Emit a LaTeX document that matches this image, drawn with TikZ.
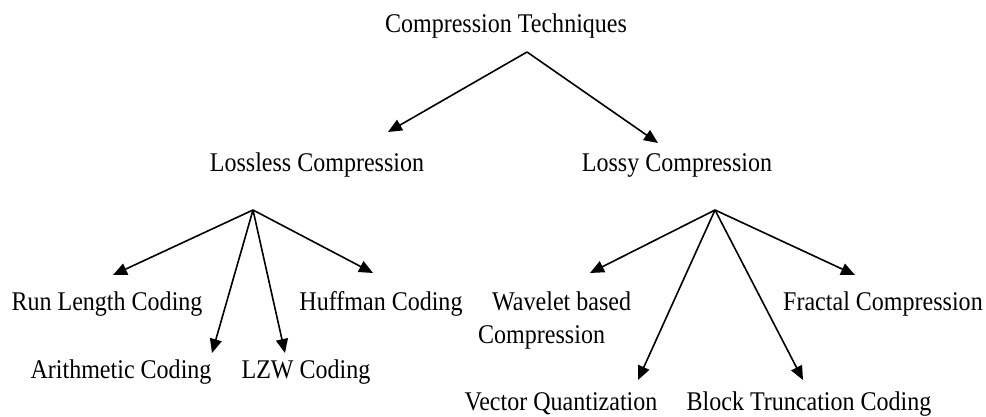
\documentclass[tikz,border=0pt]{standalone}
\usepackage{fontspec}
\setmainfont{Liberation Serif}[FakeStretch=0.89]
\usetikzlibrary{arrows.meta}
\begin{document}
\begin{tikzpicture}[x=1pt,y=-1pt,
  lbl/.style={inner sep=0pt,font=\fontsize{27}{33}\selectfont},
  conn/.style={line width=1.6pt,-{Triangle[length=14pt,width=12pt]}}]
\useasboundingbox (0,0) rectangle (986,417);
% labels
\node[lbl,anchor=base] (ct) at (506,33) {Compression Techniques};
\node[lbl,anchor=base] (ll) at (317,172) {Lossless Compression};
\node[lbl,anchor=base] (ly) at (677,172) {Lossy Compression};
\node[lbl,anchor=base] (rl) at (107,310) {Run Length Coding};
\node[lbl,anchor=base] (hf) at (381,310) {Huffman Coding};
\node[lbl,anchor=base] (ar) at (121,378) {Arithmetic Coding};
\node[lbl,anchor=base] (lz) at (306,378) {LZW Coding};
\node[lbl,anchor=base west,align=left] (wv) at (478,343) {\hspace*{14pt}Wavelet based\\Compression};
\node[lbl,anchor=base west] (fr) at (783,310) {Fractal Compression};
\node[lbl,anchor=base] (vq) at (561,410) {Vector Quantization};
\node[lbl,anchor=base] (bt) at (809,410) {Block Truncation Coding};
% branching points
\coordinate (topA) at (527,52);
\coordinate (llA) at (253,210);
\coordinate (lyA) at (715,210);
% arrow tips
\coordinate (llT) at (388,132);
\coordinate (lyT) at (658,143);
\coordinate (rlT) at (113,275);
\coordinate (arT) at (212,353);
\coordinate (lzT) at (285,353);
\coordinate (hfT) at (373,273);
\coordinate (wvT) at (590,273);
\coordinate (frT) at (855,275);
\coordinate (vqT) at (638,380);
\coordinate (btT) at (803,380);
% connectors
\draw[conn] (topA) -- (llT);
\draw[conn] (topA) -- (lyT);
\draw[conn] (llA) -- (rlT);
\draw[conn] (llA) -- (arT);
\draw[conn] (llA) -- (lzT);
\draw[conn] (llA) -- (hfT);
\draw[conn] (lyA) -- (wvT);
\draw[conn] (lyA) -- (vqT);
\draw[conn] (lyA) -- (btT);
\draw[conn] (lyA) -- (frT);
\end{tikzpicture}
\end{document}
